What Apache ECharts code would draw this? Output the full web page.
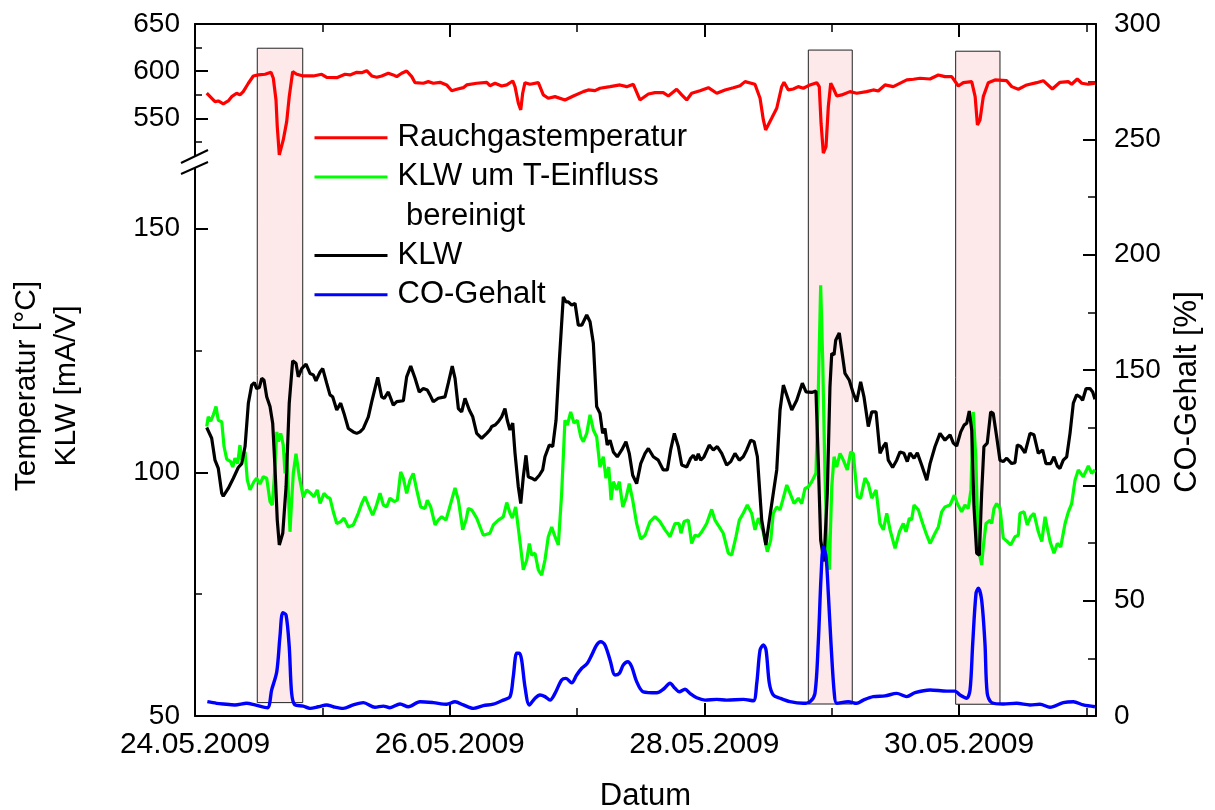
<!DOCTYPE html>
<html><head><meta charset="utf-8">
<script src="https://cdn.jsdelivr.net/npm/echarts@6/dist/echarts.min.js"></script>
<style>html,body{margin:0;padding:0;background:#fff}#c{width:1215px;height:810px}</style>
</head><body><div id="c"></div>
<script>
// ---- data (x = days since 24.05.2009 00:00) ----
const rauchgastemperatur = [[0.092,576.6],[0.157,567.7],[0.183,568.4],[0.222,565.3],[0.261,568.4],[0.288,573.0],[0.327,576.6],[0.353,574.8],[0.379,578.3],[0.419,587.2],[0.458,594.9],[0.497,596.0],[0.550,596.7],[0.597,598.8],[0.615,592.5],[0.636,569.5],[0.646,541.2],[0.662,511.2],[0.693,527.1],[0.720,546.5],[0.740,573.0],[0.767,599.5],[0.799,596.7],[0.850,594.9],[0.929,594.9],[0.995,596.7],[1.034,593.5],[1.113,593.1],[1.178,596.7],[1.217,596.0],[1.270,598.8],[1.309,598.4],[1.348,600.5],[1.388,594.9],[1.427,593.5],[1.466,594.9],[1.518,597.8],[1.557,596.0],[1.584,594.2],[1.623,597.8],[1.662,600.2],[1.702,594.2],[1.728,587.8],[1.793,587.2],[1.832,588.9],[1.871,587.2],[1.924,588.2],[1.976,585.4],[2.016,579.3],[2.055,580.8],[2.107,582.5],[2.133,585.4],[2.212,587.2],[2.291,588.2],[2.316,584.6],[2.356,587.2],[2.408,584.3],[2.448,585.4],[2.495,589.6],[2.513,583.6],[2.539,566.0],[2.558,558.9],[2.573,576.6],[2.591,587.8],[2.631,586.1],[2.696,587.8],[2.735,574.8],[2.774,571.3],[2.827,573.0],[2.905,569.5],[2.971,573.7],[3.049,578.3],[3.088,580.1],[3.141,579.3],[3.180,581.9],[3.259,583.6],[3.337,585.4],[3.390,583.6],[3.442,586.1],[3.494,569.5],[3.560,575.8],[3.612,577.2],[3.677,577.2],[3.717,573.7],[3.782,580.8],[3.822,574.8],[3.861,569.5],[3.900,576.6],[3.965,579.3],[4.031,582.5],[4.097,576.6],[4.162,580.1],[4.227,582.5],[4.280,584.6],[4.319,588.9],[4.397,586.1],[4.437,571.3],[4.463,548.3],[4.481,537.7],[4.528,550.1],[4.568,560.7],[4.607,583.6],[4.625,588.2],[4.659,580.1],[4.698,581.1],[4.737,583.6],[4.777,581.9],[4.829,585.4],[4.882,587.8],[4.902,583.6],[4.916,544.8],[4.934,513.0],[4.955,520.0],[4.973,562.4],[4.992,587.2],[5.012,581.9],[5.039,573.7],[5.078,574.8],[5.143,578.3],[5.196,576.6],[5.274,578.3],[5.326,580.1],[5.365,579.0],[5.418,585.4],[5.483,583.6],[5.589,590.7],[5.641,591.4],[5.693,592.5],[5.771,591.7],[5.837,596.0],[5.889,594.2],[5.942,594.2],[5.994,584.3],[6.033,587.8],[6.099,588.9],[6.126,573.0],[6.144,543.0],[6.164,548.3],[6.190,573.0],[6.229,587.8],[6.282,590.7],[6.374,589.9],[6.413,583.6],[6.465,580.8],[6.531,585.4],[6.609,587.8],[6.661,589.9],[6.732,581.1],[6.792,588.2],[6.857,588.9],[6.884,586.1],[6.928,591.7],[6.963,587.2],[7.014,586.1],[7.067,587.2]];

const klwBereinigt = [[0.092,109.4],[0.104,111.4],[0.123,110.5],[0.144,111.8],[0.165,113.5],[0.183,110.7],[0.210,110.4],[0.228,105.3],[0.249,102.7],[0.280,102.2],[0.296,101.1],[0.314,102.9],[0.335,101.8],[0.353,105.6],[0.367,102.5],[0.393,104.2],[0.411,98.4],[0.432,96.4],[0.463,98.1],[0.484,98.8],[0.510,97.6],[0.536,99.1],[0.563,98.8],[0.589,94.0],[0.607,93.3],[0.623,99.1],[0.642,108.3],[0.654,106.3],[0.673,108.0],[0.693,105.6],[0.707,99.8],[0.720,103.9],[0.733,95.7],[0.746,87.8],[0.759,94.3],[0.772,99.8],[0.793,103.8],[0.819,99.1],[0.850,94.9],[0.877,96.4],[0.909,95.7],[0.934,95.0],[0.960,96.4],[0.982,93.6],[1.013,95.7],[1.039,94.9],[1.060,94.7],[1.086,91.9],[1.113,89.5],[1.144,89.9],[1.170,90.6],[1.204,88.8],[1.243,89.2],[1.282,91.6],[1.309,93.6],[1.335,95.0],[1.361,93.3],[1.395,91.2],[1.421,92.9],[1.453,95.7],[1.479,93.3],[1.505,92.9],[1.531,94.7],[1.563,94.0],[1.589,94.3],[1.615,100.1],[1.636,98.8],[1.662,95.7],[1.688,98.4],[1.714,99.8],[1.741,96.4],[1.772,92.9],[1.806,92.6],[1.824,94.3],[1.851,92.9],[1.885,89.2],[1.910,90.2],[1.937,90.9],[1.971,90.2],[1.997,92.6],[2.042,96.8],[2.068,94.3],[2.102,88.2],[2.128,90.2],[2.146,92.6],[2.173,92.3],[2.212,90.6],[2.264,87.1],[2.316,87.5],[2.342,89.2],[2.382,90.2],[2.421,90.9],[2.448,93.8],[2.474,91.6],[2.492,90.6],[2.518,92.9],[2.547,86.8],[2.578,80.0],[2.605,82.0],[2.625,85.4],[2.644,83.0],[2.670,83.4],[2.696,80.0],[2.722,78.9],[2.748,82.0],[2.774,86.8],[2.801,88.8],[2.827,86.8],[2.853,85.1],[2.879,95.7],[2.905,110.7],[2.924,109.7],[2.950,112.4],[2.976,110.1],[3.002,110.7],[3.029,107.3],[3.049,106.3],[3.076,108.0],[3.102,111.8],[3.128,108.7],[3.154,107.3],[3.180,101.1],[3.206,103.2],[3.227,98.8],[3.249,101.1],[3.267,94.3],[3.285,98.1],[3.311,96.4],[3.332,98.1],[3.359,92.9],[3.384,94.7],[3.410,97.7],[3.437,94.3],[3.468,89.5],[3.500,86.3],[3.534,87.1],[3.573,89.9],[3.612,90.9],[3.651,89.9],[3.691,88.2],[3.730,86.8],[3.769,89.5],[3.801,89.5],[3.816,87.5],[3.840,89.9],[3.874,90.2],[3.900,85.4],[3.926,87.1],[3.952,86.9],[3.979,87.8],[4.018,89.5],[4.057,92.4],[4.083,90.2],[4.117,88.8],[4.148,87.5],[4.188,83.4],[4.214,83.0],[4.248,86.8],[4.274,90.2],[4.305,91.6],[4.337,93.3],[4.371,91.6],[4.397,88.2],[4.424,90.6],[4.458,88.2],[4.494,83.7],[4.521,86.1],[4.541,91.6],[4.568,92.9],[4.594,92.3],[4.615,94.3],[4.647,97.4],[4.673,95.7],[4.704,93.6],[4.738,94.7],[4.764,93.6],[4.790,96.7],[4.816,97.0],[4.843,98.1],[4.876,99.8],[4.894,116.2],[4.913,138.4],[4.929,123.0],[4.947,99.1],[4.965,83.4],[4.981,80.0],[5.000,97.0],[5.018,103.2],[5.039,101.1],[5.065,103.9],[5.091,102.5],[5.122,100.5],[5.149,104.2],[5.169,103.9],[5.201,95.0],[5.227,94.7],[5.261,98.8],[5.287,97.7],[5.314,94.7],[5.348,96.4],[5.379,89.5],[5.405,88.2],[5.432,91.6],[5.458,88.2],[5.497,84.4],[5.531,87.8],[5.562,89.5],[5.583,87.8],[5.609,90.6],[5.627,90.2],[5.646,93.3],[5.680,92.3],[5.714,89.5],[5.746,87.1],[5.772,85.4],[5.811,87.5],[5.837,88.8],[5.863,91.9],[5.889,92.9],[5.929,93.3],[5.962,95.3],[5.986,93.6],[6.020,91.9],[6.046,93.3],[6.072,92.6],[6.093,96.4],[6.111,112.4],[6.132,102.5],[6.150,84.7],[6.177,81.0],[6.190,84.7],[6.211,89.5],[6.243,90.2],[6.256,89.5],[6.274,92.6],[6.295,93.6],[6.321,92.6],[6.347,86.5],[6.379,85.8],[6.405,85.1],[6.439,86.8],[6.465,87.1],[6.478,91.6],[6.510,91.9],[6.535,89.2],[6.562,90.9],[6.588,91.6],[6.622,87.8],[6.649,85.8],[6.675,90.9],[6.714,85.8],[6.745,83.4],[6.771,85.4],[6.798,84.7],[6.832,89.5],[6.858,91.9],[6.884,93.6],[6.910,98.4],[6.936,100.5],[6.975,99.1],[7.015,101.3],[7.041,99.8],[7.067,100.5]];

const klw = [[0.092,109.2],[0.131,107.0],[0.157,102.5],[0.183,100.8],[0.210,95.7],[0.222,95.1],[0.261,96.7],[0.301,98.8],[0.340,101.0],[0.367,101.8],[0.393,105.3],[0.419,114.2],[0.445,117.9],[0.466,118.4],[0.484,117.2],[0.505,117.4],[0.524,119.3],[0.542,118.9],[0.563,115.5],[0.589,113.5],[0.610,110.1],[0.628,101.1],[0.646,90.2],[0.662,85.1],[0.689,87.5],[0.715,97.0],[0.740,114.2],[0.767,122.9],[0.793,122.4],[0.811,119.6],[0.838,121.3],[0.872,122.2],[0.903,120.3],[0.929,120.0],[0.950,118.8],[0.982,120.6],[1.003,121.3],[1.034,118.3],[1.060,115.9],[1.081,115.5],[1.113,112.8],[1.144,114.2],[1.170,112.1],[1.204,109.0],[1.243,108.3],[1.270,108.0],[1.296,108.3],[1.322,109.0],[1.361,111.4],[1.388,114.5],[1.413,117.2],[1.435,119.5],[1.466,115.5],[1.486,115.2],[1.518,116.5],[1.557,113.8],[1.584,114.5],[1.636,114.7],[1.662,119.6],[1.694,121.8],[1.728,119.3],[1.761,116.5],[1.793,117.2],[1.824,116.9],[1.845,115.9],[1.871,114.5],[1.910,115.2],[1.963,115.5],[1.989,118.3],[2.020,121.8],[2.042,119.3],[2.068,113.1],[2.094,112.4],[2.120,115.2],[2.154,112.8],[2.181,111.4],[2.212,108.0],[2.251,107.0],[2.291,108.0],[2.316,108.7],[2.330,109.4],[2.356,109.7],[2.382,110.4],[2.408,111.4],[2.434,113.1],[2.452,110.7],[2.473,108.7],[2.495,110.1],[2.513,103.9],[2.539,97.0],[2.558,93.6],[2.578,99.1],[2.599,103.5],[2.617,99.1],[2.644,98.8],[2.670,98.4],[2.704,99.4],[2.730,100.5],[2.748,103.2],[2.782,105.6],[2.809,105.3],[2.835,110.7],[2.861,123.0],[2.892,136.0],[2.913,135.0],[2.931,135.0],[2.958,134.3],[2.984,134.7],[3.010,130.2],[3.037,130.2],[3.076,132.3],[3.102,130.9],[3.128,126.5],[3.154,113.5],[3.180,112.1],[3.201,108.0],[3.219,109.0],[3.237,105.6],[3.259,106.6],[3.285,104.2],[3.316,103.2],[3.351,104.6],[3.384,106.3],[3.410,103.9],[3.437,99.4],[3.468,97.7],[3.500,101.8],[3.534,103.9],[3.560,104.9],[3.599,103.2],[3.638,102.5],[3.677,100.5],[3.709,100.5],[3.735,104.6],[3.764,108.0],[3.795,105.3],[3.822,101.5],[3.861,101.1],[3.892,102.9],[3.913,103.5],[3.934,102.5],[3.952,103.8],[3.971,102.5],[3.997,103.2],[4.038,105.6],[4.070,104.6],[4.101,105.3],[4.136,103.9],[4.175,101.5],[4.207,102.2],[4.240,103.9],[4.274,102.5],[4.305,103.2],[4.332,104.6],[4.364,106.6],[4.390,106.3],[4.416,103.2],[4.450,90.2],[4.483,85.1],[4.510,90.2],[4.541,95.7],[4.568,100.5],[4.594,112.8],[4.620,117.9],[4.651,115.5],[4.686,112.8],[4.725,114.8],[4.769,118.3],[4.798,116.5],[4.843,116.4],[4.876,116.7],[4.894,102.5],[4.913,86.1],[4.939,81.7],[4.965,95.7],[4.986,117.6],[5.000,124.4],[5.018,124.1],[5.031,127.1],[5.059,128.6],[5.078,125.1],[5.104,120.3],[5.138,118.9],[5.169,116.2],[5.196,114.5],[5.227,118.6],[5.253,115.5],[5.287,109.4],[5.314,112.4],[5.348,112.4],[5.379,103.9],[5.405,105.3],[5.426,106.1],[5.444,102.5],[5.478,101.0],[5.510,102.5],[5.536,104.2],[5.567,103.9],[5.593,102.2],[5.614,104.0],[5.646,102.9],[5.672,104.0],[5.706,101.5],[5.746,98.4],[5.772,101.8],[5.811,105.3],[5.850,108.0],[5.889,106.6],[5.929,107.7],[5.955,106.0],[5.981,105.4],[6.013,108.3],[6.039,109.7],[6.060,110.1],[6.080,112.6],[6.099,108.7],[6.117,92.9],[6.138,83.4],[6.159,83.0],[6.177,95.7],[6.195,105.3],[6.221,106.0],[6.248,112.4],[6.268,112.1],[6.295,107.3],[6.321,102.5],[6.347,102.2],[6.374,102.9],[6.413,101.8],[6.439,102.0],[6.457,105.6],[6.484,105.3],[6.517,104.0],[6.557,108.0],[6.588,107.7],[6.622,103.9],[6.656,104.6],[6.682,101.8],[6.719,101.8],[6.745,103.2],[6.771,101.3],[6.792,100.8],[6.818,102.5],[6.845,103.2],[6.871,108.0],[6.897,114.2],[6.923,115.9],[6.949,115.5],[6.970,114.8],[6.997,117.2],[7.028,117.2],[7.049,116.5],[7.067,115.0]];

const coGehalt = [[0.097,6.2],[0.170,5.5],[0.222,5.2],[0.314,4.8],[0.406,5.5],[0.471,4.8],[0.568,3.6],[0.602,11.3],[0.642,19.2],[0.667,34.4],[0.689,44.8],[0.715,43.8],[0.740,30.0],[0.759,9.8],[0.785,4.8],[0.850,4.3],[0.903,3.3],[0.968,4.0],[1.034,4.8],[1.086,4.0],[1.164,3.3],[1.243,4.8],[1.322,5.8],[1.413,3.8],[1.479,4.3],[1.531,3.6],[1.610,5.2],[1.675,4.0],[1.767,6.2],[1.871,5.8],[1.976,5.1],[2.042,6.2],[2.107,4.8],[2.185,3.3],[2.264,4.5],[2.342,5.1],[2.421,6.9],[2.474,8.4],[2.499,17.0],[2.526,27.2],[2.547,27.2],[2.565,24.3],[2.591,12.7],[2.625,4.8],[2.670,7.7],[2.709,9.1],[2.748,8.4],[2.788,6.9],[2.827,9.8],[2.879,15.6],[2.913,16.3],[2.958,14.4],[2.997,17.8],[3.037,20.7],[3.076,22.5],[3.115,26.4],[3.154,30.8],[3.186,32.2],[3.219,30.8],[3.259,24.3],[3.298,17.8],[3.332,18.5],[3.363,22.1],[3.398,23.5],[3.429,21.4],[3.468,14.9],[3.520,10.5],[3.626,10.1],[3.677,11.6],[3.730,14.2],[3.769,12.0],[3.803,10.5],[3.848,11.6],[3.887,9.8],[3.940,7.9],[4.005,6.9],[4.097,7.2],[4.175,6.9],[4.305,7.2],[4.384,6.6],[4.411,14.2],[4.437,28.6],[4.463,30.8],[4.484,28.6],[4.510,14.2],[4.541,9.1],[4.594,7.7],[4.672,6.2],[4.777,5.5],[4.829,6.2],[4.868,9.8],[4.894,31.5],[4.916,60.4],[4.934,73.4],[4.955,69.1],[4.973,53.2],[4.994,31.5],[5.020,9.8],[5.039,5.5],[5.130,6.2],[5.196,5.5],[5.248,6.9],[5.326,8.4],[5.418,8.7],[5.510,9.8],[5.589,8.4],[5.654,10.1],[5.772,11.3],[5.903,10.8],[5.968,10.8],[6.007,9.1],[6.060,7.7],[6.086,11.3],[6.107,31.5],[6.133,53.2],[6.151,55.4],[6.177,50.3],[6.203,31.5],[6.221,9.8],[6.256,5.8],[6.347,5.2],[6.452,5.5],[6.557,4.8],[6.635,5.1],[6.714,3.8],[6.818,5.8],[6.897,6.2],[6.975,4.8],[7.067,4.0]];

// shaded intervals (days) and their vertical extent on the CO axis
const highlightDays = [[0.489, 0.846], [4.816, 5.161], [5.973, 6.321]];
const highlightCO = [[5.8, 289.5], [5.2, 288.7], [5.1, 288.2]];

// ticks
const dayTicks = [0, 2, 4, 6];
const dayMinorTicks = [1, 3, 5, 7];
const dateLabels = ['24.05.2009', '26.05.2009', '28.05.2009', '30.05.2009'];
const tempTicks = [550, 600, 650];
const tempMinorTicks = [525, 575, 625];
const klwTicks = [50, 100, 150];
const klwMinorTicks = [75, 125];
const coMinorTicks = [25, 75, 125, 175, 225, 275];

// ---- chart ----
const FONT = 'Liberation Sans';
const X_MIN = 0, X_MAX = 7.075;
const TEMP_MIN = 503.7, TEMP_MAX = 650;
const KLW_MIN = 50, KLW_MAX = 163.69;
const lab = {color: '#000', fontFamily: FONT, fontSize: 28};
const labX = {color: '#000', fontFamily: FONT, fontSize: 30};
const line2 = {show: true, onZero: false, lineStyle: {color: '#000', width: 2}};
const noLine = {show: false, onZero: false};

function tickAxis(extra, values, len, w) {
  return Object.assign({
    type: 'value', splitLine: {show: false},
    axisLine: noLine, axisLabel: {show: false},
    axisTick: {show: true, inside: true, length: len, customValues: values,
               lineStyle: {color: '#000', width: w}}
  }, extra);
}

const chart = echarts.init(document.getElementById('c'));
chart.setOption({
  animation: false,
  backgroundColor: '#fff',
  grid: [
    {left: 195, right: 119, top: 24, height: 138, outerBoundsMode: 'none', containLabel: false},
    {left: 195, right: 119, top: 162, height: 554, outerBoundsMode: 'none', containLabel: false},
    {left: 195, right: 119, top: 24, height: 692, outerBoundsMode: 'none', containLabel: false}
  ],
  xAxis: [
    {type: 'value', gridIndex: 0, min: X_MIN, max: X_MAX, show: false},
    {type: 'value', gridIndex: 1, min: X_MIN, max: X_MAX, show: false},
    {type: 'value', gridIndex: 2, position: 'bottom', min: X_MIN, max: X_MAX,
      splitLine: {show: false}, axisLine: line2,
      axisTick: {show: true, inside: true, length: 13, customValues: dayTicks, lineStyle: {color: '#000', width: 2}},
      axisLabel: Object.assign({show: true, margin: 14, customValues: dayTicks,
        formatter: v => dateLabels[dayTicks.indexOf(Math.round(v))] || ''}, labX),
      name: 'Datum', nameLocation: 'middle', nameGap: 65,
      nameTextStyle: {color: '#000', fontFamily: FONT, fontSize: 31}},
    tickAxis({gridIndex: 2, position: 'bottom', min: X_MIN, max: X_MAX}, dayMinorTicks, 8, 1.5),
    tickAxis({gridIndex: 2, position: 'top', min: X_MIN, max: X_MAX, axisLine: line2}, dayTicks, 13, 2),
    tickAxis({gridIndex: 2, position: 'top', min: X_MIN, max: X_MAX}, dayMinorTicks, 8, 1.5)
  ],
  yAxis: [
    {type: 'value', gridIndex: 0, position: 'left', min: TEMP_MIN, max: TEMP_MAX,
      splitLine: {show: false}, axisLine: line2,
      axisTick: {show: true, inside: true, length: 13, customValues: tempTicks, lineStyle: {color: '#000', width: 2}},
      axisLabel: Object.assign({show: true, margin: 15, customValues: tempTicks}, lab)},
    tickAxis({gridIndex: 0, position: 'left', min: TEMP_MIN, max: TEMP_MAX}, tempMinorTicks, 7, 1.5),
    {type: 'value', gridIndex: 1, position: 'left', min: KLW_MIN, max: KLW_MAX,
      splitLine: {show: false}, axisLine: line2,
      axisTick: {show: true, inside: true, length: 13, customValues: klwTicks, lineStyle: {color: '#000', width: 2}},
      axisLabel: Object.assign({show: true, margin: 15, customValues: klwTicks}, lab)},
    tickAxis({gridIndex: 1, position: 'left', min: KLW_MIN, max: KLW_MAX}, klwMinorTicks, 7, 1.5),
    {type: 'value', gridIndex: 2, position: 'right', min: 0, max: 300, interval: 50,
      splitLine: {show: false}, axisLine: line2,
      axisTick: {show: true, inside: true, length: 13, lineStyle: {color: '#000', width: 2}},
      axisLabel: Object.assign({show: true, margin: 18}, lab),
      name: 'CO-Gehalt [%]', nameLocation: 'middle', nameGap: 76,
      nameTextStyle: {color: '#000', fontFamily: FONT, fontSize: 31, padding: [0, 44, 0, 0]}},
    tickAxis({gridIndex: 2, position: 'right', min: 0, max: 300}, coMinorTicks, 8, 1.5)
  ],
  legend: {
    orient: 'vertical', left: 313, top: 118, padding: 0, itemGap: 0,
    itemWidth: 73, itemHeight: 20, selectedMode: false,
    lineStyle: {width: 3},
    itemStyle: {color: 'rgba(0,0,0,0)', borderColor: 'rgba(0,0,0,0)', borderWidth: 0},
    textStyle: {color: '#000', fontFamily: FONT, fontSize: 31, lineHeight: 39.3, padding: [0, 0, 0, 5]},
    data: [{name: 'Rauchgastemperatur'}, {name: 'KLW um T-Einfluss'}, {name: ' bereinigt', icon: 'none'},
           {name: 'KLW'}, {name: 'CO-Gehalt'}]
  },
  series: [
    {type: 'line', name: 'Bereiche', xAxisIndex: 2, yAxisIndex: 4, data: [], z: 1, silent: true,
      markArea: {silent: true, label: {show: false},
        itemStyle: {color: '#fde8ea', borderColor: '#222', borderWidth: 1},
        data: highlightDays.map((r, i) => [{xAxis: r[0], yAxis: highlightCO[i][0]}, {xAxis: r[1], yAxis: highlightCO[i][1]}])}},
    {type: 'line', name: 'Rauchgastemperatur', xAxisIndex: 0, yAxisIndex: 0, data: rauchgastemperatur,
      symbol: 'none', z: 3, lineStyle: {color: '#ff0000', width: 3.2}, itemStyle: {color: '#ff0000'}},
    {type: 'line', name: 'KLW um T-Einfluss', xAxisIndex: 1, yAxisIndex: 2, data: klwBereinigt,
      symbol: 'none', z: 3, lineStyle: {color: '#00ff00', width: 3.2}, itemStyle: {color: '#00ff00'}},
    {type: 'line', name: ' bereinigt', xAxisIndex: 2, yAxisIndex: 4, data: [],
      symbol: 'none', lineStyle: {color: 'rgba(0,0,0,0)', width: 0}, itemStyle: {color: 'rgba(0,0,0,0)'}},
    {type: 'line', name: 'KLW', xAxisIndex: 1, yAxisIndex: 2, data: klw,
      symbol: 'none', z: 4, lineStyle: {color: '#000000', width: 3.2}, itemStyle: {color: '#000000'}},
    {type: 'line', name: 'CO-Gehalt', xAxisIndex: 2, yAxisIndex: 4, data: coGehalt, smooth: 0.3,
      symbol: 'none', z: 5, lineStyle: {color: '#0000ff', width: 3.4}, itemStyle: {color: '#0000ff'}}
  ],
  graphic: [
    {type: 'polygon', z: 100, shape: {points: [[181, 163], [208, 150], [208, 162], [181, 174]]}, style: {fill: '#fff'}},
    {type: 'line', z: 101, shape: {x1: 181, y1: 163, x2: 208, y2: 150}, style: {stroke: '#000', lineWidth: 2}},
    {type: 'line', z: 101, shape: {x1: 181, y1: 174, x2: 208, y2: 162}, style: {stroke: '#000', lineWidth: 2}},
    {type: 'text', z: 100, x: 47, y: 386, rotation: Math.PI / 2,
      style: {text: 'Temperatur [°C]\nKLW [mA/V]', fill: '#000', fontFamily: FONT, fontSize: 30,
              lineHeight: 40, align: 'center', verticalAlign: 'middle'}}
  ]
});
</script>
</body></html>
